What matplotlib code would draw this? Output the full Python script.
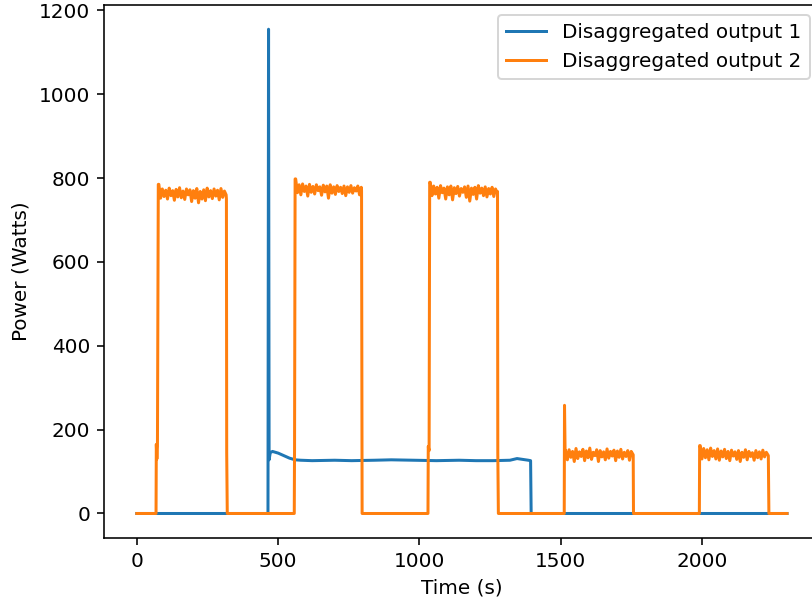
import numpy as np
import matplotlib
matplotlib.use("Agg")
import matplotlib.pyplot as plt

# ---- Disaggregated output 1 (blue) ----
blue_t = [0, 464, 466, 468, 472, 480, 500, 520, 540, 560, 580, 620, 700, 760, 840,
          900, 980, 1060, 1140, 1200, 1260, 1320, 1345, 1365, 1385, 1393, 1395, 2300]
blue_v = [0, 0, 1155, 128, 145, 148, 144, 138, 132, 128, 127, 126, 127, 126, 127,
          128, 127, 126, 127, 126, 126, 127, 131, 129, 127, 126, 0, 0]

# ---- Disaggregated output 2 (orange) ----
# step edges between plateaus
edge0_t = [0, 68, 69, 71, 73, 76]
edge0_v = [0, 0, 165, 130, 160, 785]
p1_span = (78, 316)
p1 = [785, 752, 774, 756, 771, 750, 776, 758, 770, 747, 773, 755, 777, 753, 769, 749,
      774, 760, 772, 744, 770, 752, 775, 741, 768, 750, 772, 746, 776, 755, 770, 751,
      774, 757, 771, 748, 775, 754, 769, 760]
edge1_t = [317, 318, 320, 557, 558, 560]
edge1_v = [750, 145, 0, 0, 160, 798]
p2_span = (562, 794)
p2 = [798, 765, 784, 760, 786, 768, 781, 757, 785, 766, 780, 762, 784, 770, 779, 759,
      783, 767, 781, 752, 784, 764, 779, 761, 782, 768, 778, 763, 781, 758, 779, 766,
      782, 764, 777, 769, 781, 760, 778]
edge2_t = [795, 797, 1030, 1031, 1034, 1036]
edge2_v = [770, 0, 0, 160, 150, 790]
p3_span = (1038, 1275)
p3 = [790, 758, 781, 762, 778, 752, 782, 765, 776, 750, 779, 760, 781, 748, 777, 763,
      780, 757, 775, 766, 779, 754, 781, 745, 776, 761, 778, 750, 782, 764, 776, 758,
      779, 755, 775, 762, 778, 756, 774, 765]
edge3_t = [1276, 1277, 1279, 1512, 1513, 1515]
edge3_v = [768, 145, 0, 0, 258, 150]
p4_span = (1517, 1755)
p4 = [150, 128, 152, 134, 148, 124, 155, 131, 147, 136, 153, 126, 149, 133, 156, 129,
      146, 138, 152, 124, 150, 135, 147, 128, 154, 132, 148, 137, 151, 126, 149, 134,
      153, 130, 146, 136, 150, 127, 148, 141]
edge4_t = [1756, 1757, 1990, 1991]
edge4_v = [140, 0, 0, 162]
p5_span = (1993, 2233)
p5 = [162, 130, 155, 133, 152, 128, 156, 136, 150, 130, 154, 127, 149, 135, 153, 131,
      148, 126, 151, 137, 147, 129, 150, 124, 146, 134, 152, 128, 148, 136, 145, 127,
      150, 133, 147, 130, 151, 135, 146, 139]
edge5_t = [2234, 2236, 2300]
edge5_v = [138, 0, 0]

x_ticks = [0, 500, 1000, 1500, 2000]
y_ticks = [0, 200, 400, 600, 800, 1000, 1200]

orange_t, orange_v = [], []
pieces = [(edge0_t, edge0_v), (p1_span, p1), (edge1_t, edge1_v), (p2_span, p2),
          (edge2_t, edge2_v), (p3_span, p3), (edge3_t, edge3_v), (p4_span, p4),
          (edge4_t, edge4_v), (p5_span, p5), (edge5_t, edge5_v)]
for tt, vv in pieces:
    if isinstance(tt, tuple):
        tt = np.linspace(tt[0], tt[1], len(vv))
    orange_t.extend(list(tt))
    orange_v.extend(list(vv))

DPI = 144
fig = plt.figure(figsize=(812 / DPI, 605 / DPI), dpi=DPI)
ax = fig.add_axes([104.3 / 812, (605 - 537.7) / 605, 715.2 / 812, 532.7 / 605])
ax.plot(blue_t, blue_v, color="#1f77b4", lw=1.5, label="Disaggregated output 1")
ax.plot(orange_t, orange_v, color="#ff7f0e", lw=1.5, label="Disaggregated output 2")
ax.set_xticks(x_ticks)
ax.set_yticks(y_ticks)
ax.set_xlabel("Time (s)")
ax.set_ylabel("Power (Watts)")
ax.legend(loc="upper right")
fig.savefig("out.png", dpi=DPI)
